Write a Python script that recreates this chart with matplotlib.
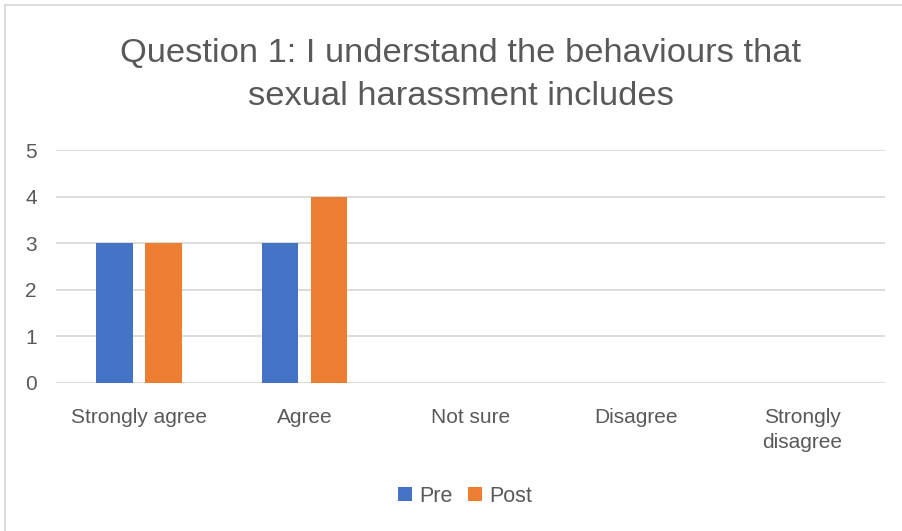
import matplotlib.pyplot as plt
from matplotlib.lines import Line2D
import numpy as np

plt.rcParams['font.family'] = ['Liberation Sans', 'DejaVu Sans']

categories = ["Strongly agree", "Agree", "Not sure", "Disagree", "Strongly\ndisagree"]
pre = [3, 3, 0, 0, 0]
post = [3, 4, 0, 0, 0]
yticks = [0, 1, 2, 3, 4, 5]
title_lines = ["Question 1: I understand the behaviours that", "sexual harassment includes"]

text_col = '#595959'
W, H = 902, 531

fig = plt.figure(figsize=(W / 100, H / 100), dpi=100)

# chart frame (top and left edges fall inside the image)
fig.lines.append(Line2D([4.5 / W, 4.5 / W], [0, 1 - 4.5 / H], transform=fig.transFigure,
                        color='#D9D9D9', linewidth=1.3))
fig.lines.append(Line2D([4.5 / W, 1], [1 - 4.5 / H, 1 - 4.5 / H], transform=fig.transFigure,
                        color='#D9D9D9', linewidth=1.3))

ax = fig.add_axes([56 / W, 1 - 383 / H, 829 / W, 233 / H])
x = np.arange(len(categories))
bw = 0.22
off = 0.148
ax.bar(x - off, pre, bw, color='#4472C4', label='Pre', zorder=3)
ax.bar(x + off, post, bw, color='#ED7D31', label='Post', zorder=3)

ax.set_xlim(-0.5, len(categories) - 0.5)
ax.set_ylim(0, 5)
ax.set_yticks(yticks)
ax.yaxis.grid(True, color='#D9D9D9', linewidth=1.3, zorder=0)
for s in ax.spines.values():
    s.set_visible(False)
ax.tick_params(length=0, labelsize=15, colors=text_col)
ax.tick_params(axis='y', pad=18)
ax.tick_params(axis='x', pad=18)
ax.set_xticks(x)
ax.set_xticklabels(categories, linespacing=1.4, va='top')
for lbl in ax.get_yticklabels():
    lbl.set_horizontalalignment('center')

fig.text(461 / W, 1 - 62 / H, title_lines[0], ha='center', va='baseline',
         fontsize=24.8, color=text_col)
fig.text(461 / W, 1 - 105 / H, title_lines[1], ha='center', va='baseline',
         fontsize=24.8, color=text_col)

fig.legend(loc='center', bbox_to_anchor=(465 / W, 1 - 496 / H), ncol=2, frameon=False,
           fontsize=15.5, labelcolor=text_col, handlelength=0.65, handleheight=0.65,
           handletextpad=0.35, columnspacing=0.7)

fig.savefig('out.png', dpi=100)
